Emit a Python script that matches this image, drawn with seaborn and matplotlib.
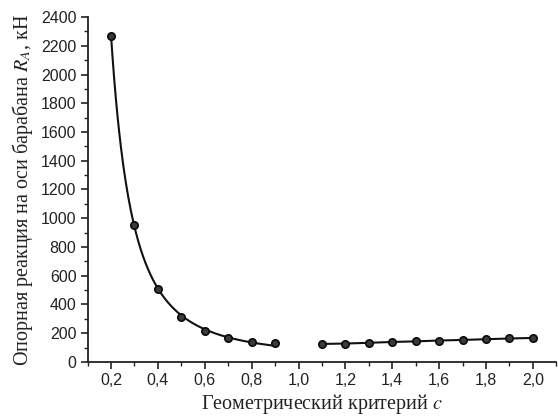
import numpy as np
import pandas as pd
import seaborn as sns
import matplotlib.pyplot as plt
from matplotlib.ticker import MultipleLocator, FuncFormatter

# data
c_left = [0.2, 0.3, 0.4, 0.5, 0.6, 0.7, 0.8, 0.9]
r_left = [2270, 950, 510, 315, 215, 163, 139, 130]
c_right = [1.1, 1.2, 1.3, 1.4, 1.5, 1.6, 1.7, 1.8, 1.9, 2.0]
r_right = [125, 128, 133, 139, 143, 149, 153, 158, 163, 167]

sns.set_style('ticks')
plt.rcParams['mathtext.fontset'] = 'stix'

fig = plt.figure(figsize=(5.58, 4.16), dpi=100)
ax = fig.add_axes([0.157, 0.13, 0.84, 0.829])

# fit y = y0 + A*x^(-p) for the left branch (least squares)
x = np.array(c_left)
y = np.array(r_left, dtype=float)
best = None
for p in np.linspace(1.0, 5.0, 401):
    M = np.column_stack([np.ones_like(x), x ** -p])
    coef, *_ = np.linalg.lstsq(M, y, rcond=None)
    err = np.sum((M @ coef - y) ** 2)
    if best is None or err < best[0]:
        best = (err, p, coef)
_, p, coef = best
xs = np.linspace(0.2, 0.9, 200)
fit = pd.DataFrame({'c': xs, 'r': coef[0] + coef[1] * xs ** -p})
sns.lineplot(data=fit, x='c', y='r', ax=ax, color='#111111', lw=1.5)

right = pd.DataFrame({'c': c_right, 'r': r_right})
sns.lineplot(data=right, x='c', y='r', ax=ax, color='#111111', lw=1.5)

pts = pd.DataFrame({'c': c_left + c_right, 'r': r_left + r_right})
sns.scatterplot(data=pts, x='c', y='r', ax=ax, color='#3a3a3a', edgecolor='#0a0a0a',
                linewidth=1.2, s=28, zorder=3)

ax.set_xlim(0.1, 2.1)
ax.set_ylim(0, 2400)
ax.set_xticks([0.2, 0.4, 0.6, 0.8, 1.0, 1.2, 1.4, 1.6, 1.8, 2.0])
ax.xaxis.set_minor_locator(MultipleLocator(0.1))
ax.yaxis.set_major_locator(MultipleLocator(200))
ax.yaxis.set_minor_locator(MultipleLocator(100))
ax.xaxis.set_major_formatter(FuncFormatter(lambda v, p: f'{v:.1f}'.replace('.', ',')))

for sp in ['top', 'right']:
    ax.spines[sp].set_visible(False)
for sp in ['left', 'bottom']:
    ax.spines[sp].set_linewidth(1.3)
    ax.spines[sp].set_color('#222222')

ax.tick_params(which='major', length=5, width=1.2, color='#222222',
               labelsize=11.5, labelcolor='#222222', pad=3)
ax.tick_params(which='minor', length=3, width=1.0, color='#222222')
for lab in ax.get_xticklabels() + ax.get_yticklabels():
    lab.set_fontfamily('Liberation Sans')

ax.set_xlabel('Геометрический критерий $c$', fontfamily='Liberation Serif',
              fontsize=14.5, color='#222222', labelpad=3)
ax.set_ylabel('Опорная реакция на оси барабана $R_A$, кН', fontfamily='Liberation Serif',
              fontsize=14.5, color='#222222', labelpad=4)

fig.savefig('out.png', dpi=100)
plt.close()
